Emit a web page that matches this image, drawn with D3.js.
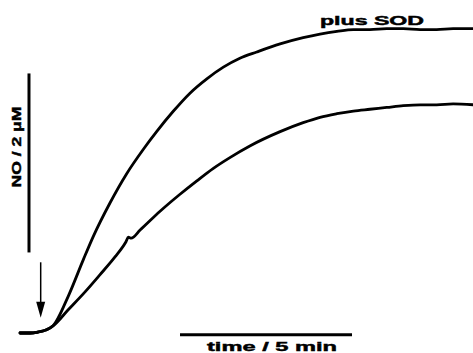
<!DOCTYPE html>
<html>
<head>
<meta charset="utf-8">
<script src="https://cdn.jsdelivr.net/npm/d3@7"></script>
<style>
  body { margin: 0; background: #fff; }
  svg { display: block; }
  .trace { fill: none; stroke: #000; stroke-width: 2.8; stroke-linejoin: round; stroke-linecap: round; }
  .bar { stroke: #000; stroke-width: 3; }
  .lbl { font-family: "Liberation Sans", Arial, sans-serif; font-weight: bold; fill: #000; stroke: #000; stroke-width: 0.45; }
</style>
</head>
<body>
<svg width="473" height="353"></svg>
<script>
// time in minutes after the addition (arrow at t = 0)
const timeMin = [-0.58, -0.29, -0.06, 0.15, 0.38, 0.82, 1.26, 1.55, 2.03, 2.52, 3.0, 3.39, 3.88, 4.36, 4.85,
  5.33, 5.81, 6.3, 6.98, 7.65, 8.14, 8.63, 9.11, 9.59, 10.08, 10.56, 11.05, 11.53, 12.01, 12.59];

// NO concentration (uM) with SOD
const noPlusSOD = [0, 0, 0.01, 0.03, 0.08, 0.41, 0.82, 1.08, 1.45, 1.78, 2.05, 2.25, 2.48, 2.68, 2.84,
  2.97, 3.07, 3.14, 3.23, 3.3, 3.34, 3.37, 3.39, 3.39, 3.4, 3.4, 3.39, 3.39, 3.4, 3.4];

// NO trace without SOD (has its own small kink around 2.5 min)
const timeCtrl = [-0.58, -0.29, -0.06, 0.15, 0.38, 0.82, 1.31, 1.74, 2.18, 2.5, 2.57, 2.65, 2.91, 3.49, 4.07,
  4.56, 5.04, 5.52, 6.1, 6.98, 7.65, 8.14, 8.63, 9.11, 9.59, 10.08, 10.56, 11.05, 11.53, 12.01, 12.59];
const noCtrl = [0, 0, 0.01, 0.03, 0.08, 0.26, 0.46, 0.65, 0.85, 1.02, 1.07, 1.06, 1.15, 1.36, 1.55,
  1.7, 1.84, 1.96, 2.09, 2.25, 2.35, 2.41, 2.45, 2.48, 2.5, 2.52, 2.54, 2.55, 2.55, 2.56, 2.55];

// scale bars: 2 uM and 5 min
const barNO = [0.9, 2.9];
const barNOTime = -0.32;
const barTime = [4.07, 9.07];
const barTimeNO = -0.02;

// addition arrow
const arrowTime = 0.02;
const arrowNO = [0.79, 0.17];

const svg = d3.select('svg');

// 1 min = 34.4 px, 1 uM = 89.5 px
const x = d3.scaleLinear().domain([0, 5]).range([40, 212]);
const y = d3.scaleLinear().domain([0, 2]).range([333, 154]);

const line = d3.line()
  .x(d => x(d[0]))
  .y(d => y(d[1]))
  .curve(d3.curveMonotoneX);

const sodData = timeMin.map((t, i) => [t, noPlusSOD[i]]);
const ctrlData = timeCtrl.map((t, i) => [t, noCtrl[i]]);

//---- traces ----
svg.append('path').attr('class', 'trace').attr('d', line(sodData));
svg.append('path').attr('class', 'trace').attr('d', line(ctrlData));

// baseline before addition is drawn a bit heavier
svg.append('path')
  .attr('class', 'trace')
  .attr('stroke-width', 4.5)
  .attr('d', line(sodData.filter(d => d[0] <= 0)));

//---- scale bars ----
svg.append('line').attr('class', 'bar')
  .attr('x1', x(barNOTime)).attr('x2', x(barNOTime))
  .attr('y1', y(barNO[0])).attr('y2', y(barNO[1]));

svg.append('line').attr('class', 'bar')
  .attr('x1', x(barTime[0])).attr('x2', x(barTime[1]))
  .attr('y1', y(barTimeNO)).attr('y2', y(barTimeNO));

//---- arrow ----
const ax = x(arrowTime);
const aTop = y(arrowNO[0]);
const aTip = y(arrowNO[1]);
svg.append('line')
  .attr('x1', ax).attr('x2', ax)
  .attr('y1', aTop).attr('y2', aTip - 12)
  .attr('stroke', '#000').attr('stroke-width', 1.5);
svg.append('path')
  .attr('d', `M${ax - 4.5},${aTip - 16} L${ax + 4.5},${aTip - 16} L${ax},${aTip} Z`)
  .attr('fill', '#000');

//---- labels ----
svg.append('text')
  .attr('class', 'lbl')
  .attr('font-size', 13)
  .attr('text-anchor', 'middle')
  .attr('transform', 'translate(20.5,147) rotate(-90)')
  .attr('textLength', 81)
  .attr('lengthAdjust', 'spacingAndGlyphs')
  .text('NO / 2 μM');

svg.append('text')
  .attr('class', 'lbl')
  .attr('font-size', 13)
  .attr('text-anchor', 'middle')
  .attr('x', 272).attr('y', 351)
  .attr('textLength', 130)
  .attr('lengthAdjust', 'spacingAndGlyphs')
  .text('time / 5 min');

svg.append('text')
  .attr('class', 'lbl')
  .attr('font-size', 12.5)
  .attr('text-anchor', 'middle')
  .attr('x', 372).attr('y', 25)
  .attr('textLength', 104)
  .attr('lengthAdjust', 'spacingAndGlyphs')
  .text('plus SOD');
</script>
</body>
</html>
